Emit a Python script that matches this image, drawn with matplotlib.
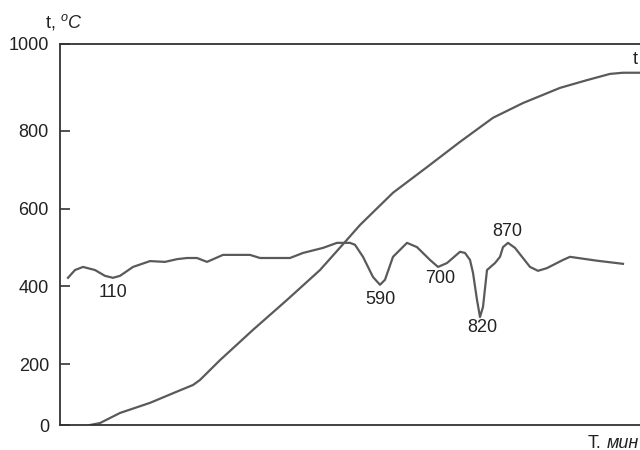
import matplotlib
matplotlib.use("Agg")
import matplotlib.pyplot as plt

plt.rcParams['font.family'] = ['Liberation Sans', 'DejaVu Sans']
plt.rcParams['mathtext.fontset'] = 'custom'
plt.rcParams['mathtext.rm'] = 'Liberation Sans'
plt.rcParams['mathtext.it'] = 'Liberation Sans:italic'

# heating curve t (time in arbitrary minutes, temperature in degC)
heat_time = [30, 40, 60, 90, 116, 133, 140, 160, 193, 227, 260, 287, 300, 333,
             367, 400, 433, 463, 500, 527, 550, 563, 580]
heat_temp = [43, 48, 74, 100, 128, 146, 159, 210, 288, 365, 442, 520, 558, 641,
             707, 772, 834, 872, 911, 931, 947, 950, 950]

# DTA curve
dta_time = [8, 15, 23, 35, 45, 53, 60, 73, 90, 105, 117, 127, 137, 147, 163, 190,
            200, 230, 243, 263, 277, 290, 295, 303, 313, 320, 325, 333, 347, 357,
            370, 378, 387, 400, 405, 410, 413, 417, 420, 423, 427, 435, 440, 443,
            448, 455, 470, 478, 487, 503, 510, 537, 563]
dta_val = [422, 442, 450, 442, 427, 422, 427, 450, 465, 463, 470, 473, 473, 463,
           481, 481, 473, 473, 486, 499, 512, 512, 507, 476, 424, 404, 417, 476,
           512, 501, 468, 450, 460, 489, 486, 468, 435, 365, 321, 347, 442, 460,
           476, 501, 512, 499, 450, 440, 447, 468, 476, 466, 458]

peak_labels = ['110', '590', '700', '820', '870']
peak_x = [53, 320, 380, 422, 447]
peak_y = [383, 365, 419, 293, 540]

ytick_vals = [43, 200, 400, 600, 800, 1024]
ytick_labels = ['0', '200', '400', '600', '800', '1000']

fig = plt.figure(figsize=(6.4, 4.5), dpi=100)
ax = fig.add_axes([60 / 640, 1 - 425 / 450, 1 - 60 / 640, (425 - 44) / 450])

line_col = '#5a5a5a'
ax.plot(heat_time, heat_temp, color=line_col, lw=1.6)
ax.plot(dta_time, dta_val, color=line_col, lw=1.6)

for lab, x, y in zip(peak_labels, peak_x, peak_y):
    ax.text(x, y, lab, ha='center', va='center', fontsize=13, color='#222222')

ax.text(575, 983, 't', ha='center', va='center', fontsize=13, color='#222222')

ax.set_xlim(0, 580)
ax.set_ylim(43, 1024)
ax.set_yticks(ytick_vals)
ax.set_yticklabels(ytick_labels, fontsize=13, color='#222222')
ax.set_xticks([])
ax.tick_params(axis='y', direction='in', length=7.5, width=1.2, color='#333333', pad=8)

for s in ['left', 'top', 'bottom']:
    ax.spines[s].set_color('#333333')
    ax.spines[s].set_linewidth(1.3)
ax.spines['right'].set_visible(False)

fig.text(45 / 640, 1 - 22 / 450, r't, $^{o}\mathit{C}$', ha='left', va='center',
         fontsize=13, color='#222222')
fig.text(588 / 640, 1 - 443 / 450, 'T.', ha='left', va='center', fontsize=13, color='#222222')
fig.text(607 / 640, 1 - 443 / 450, 'мин', ha='left', va='center', fontsize=13,
         style='italic', color='#222222')

fig.savefig('out.png', dpi=100)
